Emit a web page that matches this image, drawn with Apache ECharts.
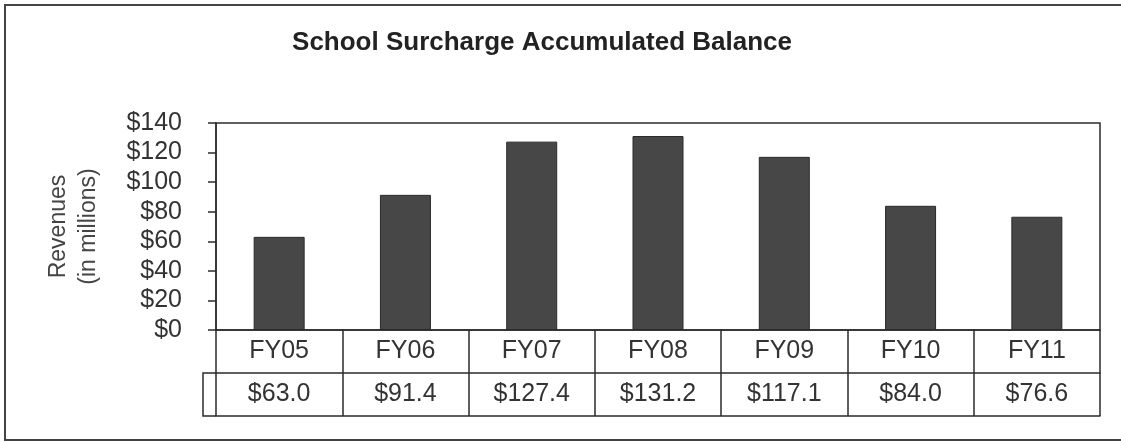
<!DOCTYPE html>
<html>
<head>
<meta charset="utf-8">
<title>School Surcharge Accumulated Balance</title>
<script src="https://cdn.jsdelivr.net/npm/echarts@6/dist/echarts.min.js"></script>
<style>
  html, body { margin: 0; padding: 0; background: #fff; }
  #chart { width: 1121px; height: 442px; }
</style>
</head>
<body>
<div id="chart"></div>
<script>
// 数据
const years = ['FY05', 'FY06', 'FY07', 'FY08', 'FY09', 'FY10', 'FY11'];
const balances = [63.0, 91.4, 127.4, 131.2, 117.1, 84.0, 76.6];
const yTicks = [0, 20, 40, 60, 80, 100, 120, 140];

const ink = '#2b2b2b';
const font = '"Liberation Sans", Arial, sans-serif';

let chart = echarts.init(document.getElementById('chart'));

// 表格行（类目轴的刻度线当竖线）
const tableAxis = (offset, labels) => {
  return {
    type: 'category',
    data: years,
    position: 'bottom',
    offset: offset,
    axisLine: { show: true, lineStyle: { color: ink, width: 1.5 } },
    axisTick: { show: false },
    axisLabel: {
      show: !!labels,
      margin: 9,
      fontFamily: font,
      fontSize: 25,
      color: '#333',
      formatter: labels ? (v, i) => labels[i] : undefined
    }
  }
}

chart.setOption({
  animation: false,
  title: {
    text: 'School Surcharge Accumulated Balance',
    left: 537,
    top: 25,
    textAlign: 'center',
    textStyle: { fontFamily: font, fontSize: 26, fontWeight: 'bold', color: '#222' }
  },
  grid: {
    left: 216,
    right: 21,
    top: 123,
    bottom: 112,
    show: true,
    borderColor: ink,
    borderWidth: 1.5
  },
  xAxis: [
    {
      type: 'category',
      data: years,
      position: 'bottom',
      axisLine: { show: true, lineStyle: { color: ink, width: 1.5 } },
      axisTick: { show: true, interval: 0, length: 86, lineStyle: { color: ink, width: 1.5 } },
      axisLabel: { margin: 9, fontFamily: font, fontSize: 25, color: '#333' }
    },
    tableAxis(43, balances.map(v => '$' + v.toFixed(1))),
    tableAxis(86, null)
  ],
  yAxis: {
    type: 'value',
    min: yTicks[0],
    max: yTicks[yTicks.length - 1],
    interval: 20,
    name: 'Revenues\n(in millions)',
    nameLocation: 'middle',
    nameRotate: 90,
    nameGap: 112,
    nameTextStyle: { fontFamily: font, fontSize: 23, color: '#444', lineHeight: 30 },
    axisLine: { show: true, lineStyle: { color: ink, width: 1.5 } },
    axisTick: { show: true, length: 8, lineStyle: { color: ink, width: 1.5 } },
    splitLine: { show: false },
    axisLabel: {
      margin: 34,
      fontFamily: font,
      fontSize: 25,
      color: '#333',
      formatter: v => '$' + v
    }
  },
  series: [{
    type: 'bar',
    data: balances,
    barWidth: 51,
    itemStyle: { color: '#474747', borderColor: '#2a2a2a', borderWidth: 1 }
  }],
  graphic: [
    // 外框
    {
      type: 'rect',
      shape: { x: 5, y: 5, width: 1130, height: 435 },
      style: { fill: 'none', stroke: '#444', lineWidth: 2 }
    },
    // 数据表左侧的小格
    {
      type: 'polyline',
      shape: { points: [[216, 373], [203, 373], [203, 416], [216, 416]] },
      style: { fill: 'none', stroke: ink, lineWidth: 1.5 }
    }
  ]
});
</script>
</body>
</html>
